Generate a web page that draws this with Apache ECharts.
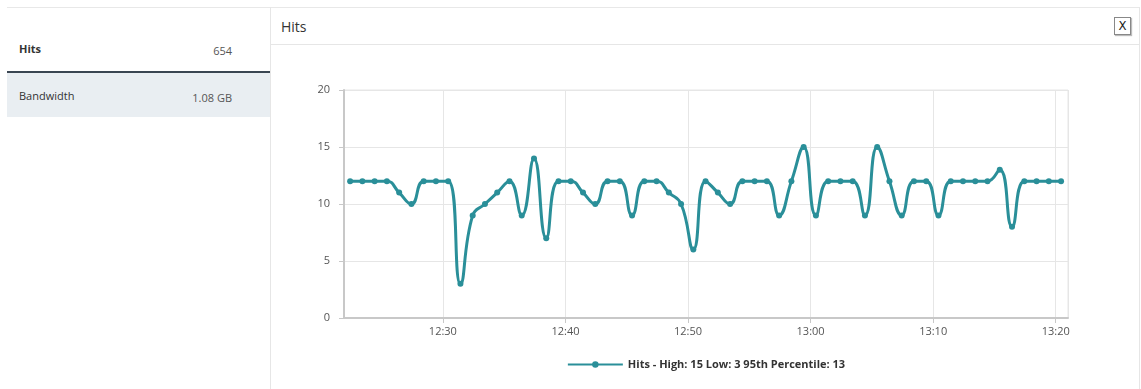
<!DOCTYPE html>
<html>
<head>
<meta charset="utf-8">
<script src="https://cdn.jsdelivr.net/npm/echarts@6/dist/echarts.min.js"></script>
<style>
    html, body { margin: 0; padding: 0; background: #fff; font-family: "Open Sans", sans-serif; }
    #page { position: relative; width: 1141px; height: 389px; overflow: hidden; }
    #topline { position: absolute; left: 7px; top: 7px; width: 1133px; height: 1px; background: #e8e8e8; }
    .row { position: absolute; left: 7px; width: 263px; font-size: 11px; color: #333; }
    .row .val { position: absolute; right: 38px; color: #555; }
    #rowHits { top: 25px; height: 46px; border-bottom: 2px solid #3a4652; }
    #rowHits .lbl { position: absolute; left: 12px; top: 16px; font-weight: bold; }
    #rowHits .val { top: 18px; }
    #rowBw { top: 73px; height: 44px; background: #e9eef2; }
    #rowBw .lbl { position: absolute; left: 12px; top: 15px; }
    #rowBw .val { top: 17px; }
    #panel { position: absolute; left: 270px; top: 7px; width: 868px; height: 382px; border-left: 1px solid #e6e6e6; border-right: 1px solid #e6e6e6; }
    #panelHead { position: absolute; left: 0; top: 0; width: 868px; height: 37px; border-bottom: 1px solid #e6e6e6; }
    #panelTitle { position: absolute; left: 10px; top: 10px; font-size: 14px; color: #333; font-family: "Liberation Sans Narrow", "Open Sans", sans-serif; }
    #closeBtn { position: absolute; left: 843px; top: 10px; width: 15px; height: 16px; border: 1px solid #888; box-shadow: 1px 1px 1px #bbb;
        font-size: 13px; line-height: 16px; text-align: center; color: #222; font-family: "DejaVu Sans Condensed", sans-serif; }
    #chart { position: absolute; left: 271px; top: 45px; width: 870px; height: 344px; }
</style>
</head>
<body>
<div id="page">
    <div id="topline"></div>
    <div class="row" id="rowHits"><span class="lbl">Hits</span><span class="val">654</span></div>
    <div class="row" id="rowBw"><span class="lbl">Bandwidth</span><span class="val">1.08 GB</span></div>
    <div id="panel">
        <div id="panelHead">
            <span id="panelTitle">Hits</span>
            <div id="closeBtn">X</div>
        </div>
    </div>
    <div id="chart"></div>
</div>
<script>
    // minute of each sample (every sample falls ~26s past the minute)
    var minutes = [
        '12:22', '12:23', '12:24', '12:25', '12:26', '12:27', '12:28', '12:29', '12:30',
        '12:31', '12:32', '12:33', '12:34', '12:35', '12:36', '12:37', '12:38', '12:39', '12:40',
        '12:41', '12:42', '12:43', '12:44', '12:45', '12:46', '12:47', '12:48', '12:49', '12:50',
        '12:51', '12:52', '12:53', '12:54', '12:55', '12:56', '12:57', '12:58', '12:59', '13:00',
        '13:01', '13:02', '13:03', '13:04', '13:05', '13:06', '13:07', '13:08', '13:09', '13:10',
        '13:11', '13:12', '13:13', '13:14', '13:15', '13:16', '13:17', '13:18', '13:19', '13:20'
    ];
    var hits = [
        12, 12, 12, 12, 11, 10, 12, 12, 12,
        3, 9, 10, 11, 12, 9, 14, 7, 12, 12,
        11, 10, 12, 12, 9, 12, 12, 11, 10, 6,
        12, 11, 10, 12, 12, 12, 9, 12, 15, 9,
        12, 12, 12, 9, 15, 12, 9, 12, 12, 9,
        12, 12, 12, 12, 13, 8, 12, 12, 12, 12
    ];
    var seriesName = 'Hits - High: 15 Low: 3 95th Percentile: 13';

    function toTime(hm, sec) {
        var p = hm.split(':');
        return new Date(2020, 0, 1, +p[0], +p[1], sec).getTime();
    }
    var points = minutes.map(function(m, i) {
        return [toTime(m, 26), hits[i]];
    });

    var chart = echarts.init(document.getElementById('chart'));
    var option = {
        animation: false,
        textStyle: { fontFamily: 'Open Sans' },
        grid: {
            left: 73,
            right: 73,
            top: 45,
            bottom: 71,
            show: true,
            borderColor: '#e6e6e6',
            borderWidth: 1
        },
        legend: {
            bottom: 14,
            left: 'center',
            itemWidth: 55,
            itemHeight: 8,
            textStyle: { fontSize: 11, fontWeight: 'bold', color: '#333' },
            data: [seriesName]
        },
        xAxis: {
            type: 'time',
            min: toTime('12:21', 56),
            max: toTime('13:21', 0),
            splitNumber: 5,
            axisLine: { lineStyle: { color: '#c8c8c8', width: 2 } },
            axisTick: { show: true, length: 5, lineStyle: { color: '#c8c8c8' } },
            axisLabel: {
                color: '#555',
                fontSize: 11,
                formatter: function(v) {
                    return echarts.time.format(v, '{HH}:{mm}', false);
                }
            },
            splitLine: { show: true, lineStyle: { color: '#e6e6e6' } }
        },
        yAxis: {
            type: 'value',
            min: 0,
            max: 20,
            interval: 5,
            axisLine: { show: true, lineStyle: { color: '#c8c8c8', width: 2 } },
            axisTick: { show: true, length: 5, lineStyle: { color: '#c8c8c8' } },
            axisLabel: { color: '#555', fontSize: 11, margin: 14 },
            splitLine: { lineStyle: { color: '#e6e6e6' } }
        },
        series: [{
            name: seriesName,
            type: 'line',
            smooth: 0.5,
            data: points,
            symbol: 'circle',
            symbolSize: 6,
            showAllSymbol: true,
            lineStyle: { color: '#2a8f99', width: 3 },
            itemStyle: { color: '#2a8f99' }
        }]
    };
    chart.setOption(option);
</script>
</body>
</html>
